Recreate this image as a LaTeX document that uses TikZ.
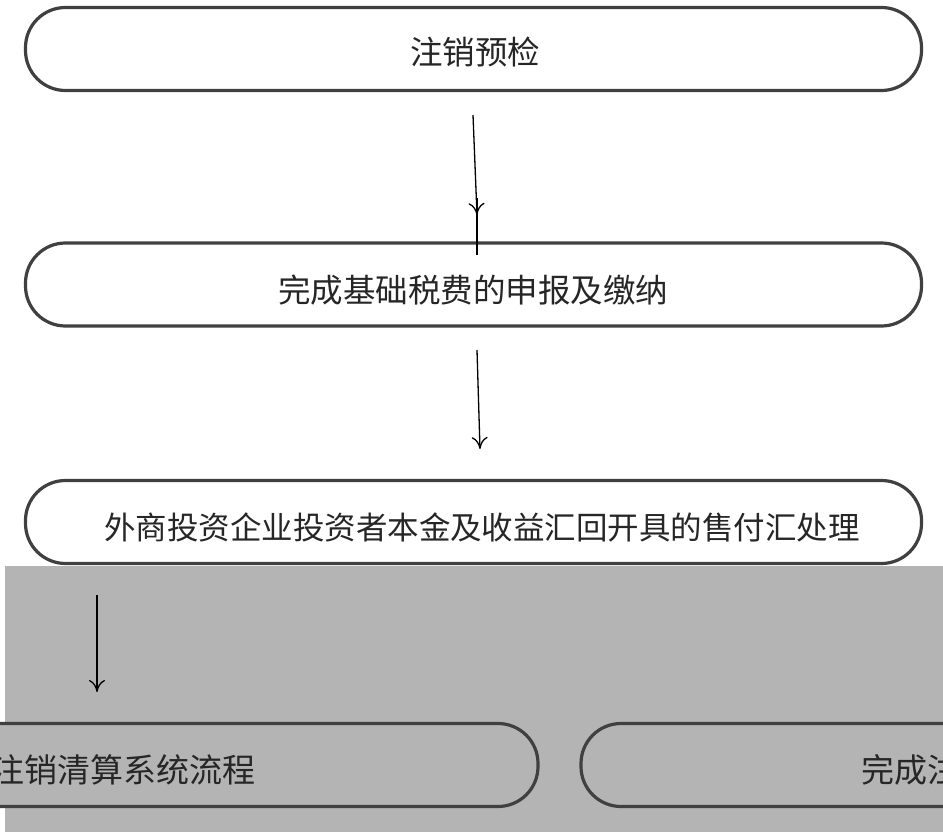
\documentclass[tikz,border=0pt]{standalone}
\usepackage{fontspec}
\newfontfamily\cjk{Noto Sans CJK SC}
\usetikzlibrary{arrows.meta}
\definecolor{boxline}{HTML}{404040}
\definecolor{corrupt}{HTML}{B4B4B4}
\begin{document}
\begin{tikzpicture}[x=1pt,y=-1pt,
  stepbox/.style={draw=boxline,line width=3.2pt,rounded corners=40pt,inner sep=0pt,minimum height=83pt},
  lbl/.style={font=\cjk\fontsize{32.5}{36}\selectfont,text=black!85,inner sep=0pt},
  conn/.style={-{To[length=12pt,width=16pt]},line width=1.3pt,black}]
\useasboundingbox (0,0) rectangle (943,832);
\clip (0,0) rectangle (943,832);
\fill[white] (0,0) rectangle (943,832);
% top three boxes
\node[stepbox,fill=white,minimum width=896pt] (b1) at (473.5,49) {};
\node[lbl] (t1) at (475,52) {注销预检};
\node[stepbox,fill=white,minimum width=896pt] (b2) at (473.5,284.5) {};
\node[lbl] (t2) at (473,290) {完成基础税费的申报及缴纳};
\node[stepbox,fill=white,minimum width=896pt] (b3) at (473.5,522) {};
\node[lbl,font=\cjk\fontsize{31.5}{36}\selectfont] (t3) at (482,527) {外商投资企业投资者本金及收益汇回开具的售付汇处理};
% damaged lower part
\fill[corrupt] (5,566) rectangle (943,832);
\node[stepbox,fill=corrupt,minimum width=980pt] (b4) at (48,765) {};
\node[lbl,anchor=west,font=\cjk\fontsize{33}{36}\selectfont] (t4) at (-9,770) {注销清算系统流程};
\node[stepbox,fill=corrupt,minimum width=800pt] (b5) at (981,765) {};
\node[lbl,anchor=west,font=\cjk\fontsize{33}{36}\selectfont] (t5) at (861,770) {完成注销};
% connectors
\coordinate (a1s) at (473,115);
\coordinate (a1e) at (477,215);
\coordinate (a2s) at (477,350);
\coordinate (a2e) at (480,449);
\coordinate (a3s) at (97,595);
\coordinate (a3e) at (97,692);
\coordinate (m1) at (477,198);
\coordinate (m2) at (477,255);
\draw[conn] (a1s) -- (a1e);
\draw[line width=2.2pt,black] (m1) -- (m2);
\draw[conn] (a2s) -- (a2e);
\draw[conn] (a3s) -- (a3e);
\end{tikzpicture}
\end{document}
